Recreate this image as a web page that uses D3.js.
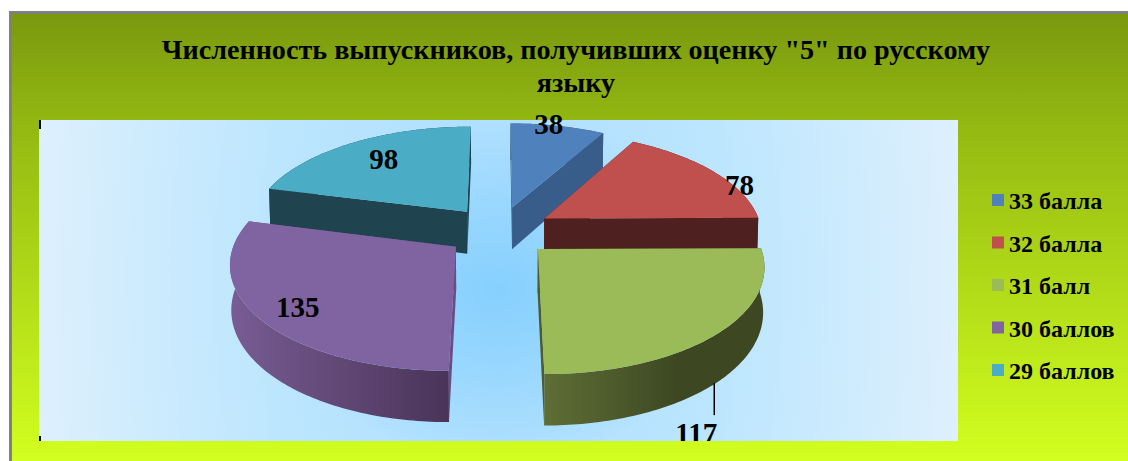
<!DOCTYPE html>
<html>
<head>
<meta charset="utf-8">
<script src="https://cdn.jsdelivr.net/npm/d3@7"></script>
<style>
  html, body { margin: 0; padding: 0; background: #fff; }
  text { font-family: "Liberation Serif", serif; font-weight: bold; fill: #000; }
</style>
</head>
<body>
<div id="chart"></div>
<script>
var categories = ["33 балла", "32 балла", "31 балл", "30 баллов", "29 баллов"];
var values = [38, 78, 117, 135, 98];
var titleLines = ["Численность выпускников, получивших оценку \"5\" по русскому", "языку"];

// styles, one per slice
var topColors = ["#4f81bd", "#c0504d", "#9bbb59", "#8064a2", "#4bacc6"];
var wallColors = ["#385d8a", "#4f2020", "#4e5b2c", "#6b4d85", "#1f4450"];
var rimLeft = ["#385d8a", "#4f2020", "#5f6e36", "#785c94", "#1f4450"];
var rimRight = ["#385d8a", "#4f2020", "#3d4822", "#4a3458", "#1f4450"];

// where each data label sits inside its slice: share of the sweep, share of radius
var labelSweep = [0.40, 0.67, null, 0.486, 0.516];
var labelRadius = [1.01, 1.03, null, 0.83, 0.73];

var w = 1128;
var h = 461;
var plot = {x: 39, y: 120, w: 919, h: 321};

// flat pie seen from above: projection constants
var cx = 499, cy = 231;
var rx = 218, ry = 102;
var persp = 0.14;
var explode = 0.245;
var thick = 43;
var shrink = 0.995;

var svg = d3.select("#chart")
  .append("svg")
  .attr("width", w)
  .attr("height", h)
  .style("display", "block");

var defs = svg.append("defs");

var bg = defs.append("linearGradient").attr("id", "bg")
  .attr("x1", 0).attr("y1", 0).attr("x2", 0).attr("y2", 1);
bg.append("stop").attr("offset", "0%").attr("stop-color", "#7a980e");
bg.append("stop").attr("offset", "25%").attr("stop-color", "#93b912");
bg.append("stop").attr("offset", "100%").attr("stop-color", "#d2ff1f");

// plot fill: nearly horizontal fade, plus a deeper blue spot in the middle
var pg = defs.append("radialGradient").attr("id", "plotbg")
  .attr("gradientUnits", "userSpaceOnUse")
  .attr("cx", 0).attr("cy", 0).attr("r", 1)
  .attr("gradientTransform", "translate(498,280) scale(470,900)");
pg.append("stop").attr("offset", "0%").attr("stop-color", "#aaddfe");
pg.append("stop").attr("offset", "50%").attr("stop-color", "#bde6fe");
pg.append("stop").attr("offset", "80%").attr("stop-color", "#d0ecfd");
pg.append("stop").attr("offset", "100%").attr("stop-color", "#dff0fd");

var spot = defs.append("radialGradient").attr("id", "plotspot")
  .attr("gradientUnits", "userSpaceOnUse")
  .attr("cx", 0).attr("cy", 0).attr("r", 1)
  .attr("gradientTransform", "translate(498,290) scale(230,170)");
spot.append("stop").attr("offset", "0%").attr("stop-color", "#86d0fe");
spot.append("stop").attr("offset", "100%").attr("stop-color", "#86d0fe").attr("stop-opacity", 0);

// only the bottom of the plot cuts labels off
defs.append("clipPath").attr("id", "plotclip")
  .append("rect")
  .attr("x", 0).attr("y", 0)
  .attr("width", w).attr("height", plot.y + plot.h);

// chart area
svg.append("rect")
  .attr("x", 9).attr("y", 11)
  .attr("width", w - 9).attr("height", h - 11)
  .attr("fill", "#808080");
svg.append("rect")
  .attr("x", 12).attr("y", 14)
  .attr("width", w - 12).attr("height", h - 14)
  .attr("fill", "url(#bg)");
svg.selectAll("rect.plotfill")
  .data(["url(#plotbg)", "url(#plotspot)"])
  .enter()
  .append("rect")
  .attr("class", "plotfill")
  .attr("x", plot.x).attr("y", plot.y)
  .attr("width", plot.w).attr("height", plot.h)
  .attr("fill", function(d) { return d; });

// little black stubs on the left of the plot
svg.append("rect").attr("x", plot.x).attr("y", plot.y).attr("width", 2).attr("height", 9).attr("fill", "#000");
svg.append("rect").attr("x", plot.x).attr("y", plot.y + plot.h - 5).attr("width", 2).attr("height", 5).attr("fill", "#000");

// title
svg.selectAll("text.title")
  .data(titleLines)
  .enter()
  .append("text")
  .attr("class", "title")
  .attr("x", 576)
  .attr("y", function(d, i) { return 59 + i * 33; })
  .attr("text-anchor", "middle")
  .attr("font-size", "28.15px")
  .text(function(d) { return d; });

function ground(d, angle, r) {
  var mid = (d.startAngle + d.endAngle) / 2;
  return {
    u: explode * Math.sin(mid) + r * Math.sin(angle),
    v: -explode * Math.cos(mid) - r * Math.cos(angle)
  };
}

// top face point
function project(p) {
  var z = 1 - persp * p.v;
  return [cx + rx * p.u / z, cy + ry * p.v / z];
}

// same ground point on the underside of the slice
function projectLow(p) {
  var z = 1 - persp * p.v;
  var t = project(p);
  return [cx + (t[0] - cx) * shrink, t[1] + thick / z];
}

var line = d3.line();

var pie = d3.pie().sort(null).value(function(d) { return d; });
var arcs = pie(values);

// back slices first, the front ones cover them
var drawOrder = [0, 1, 4, 3, 2];

var slices = svg.append("g").selectAll("g.slice")
  .data(drawOrder.map(function(i) { return arcs[i]; }))
  .enter()
  .append("g")
  .attr("class", "slice");

slices.each(function(d) {
  var g = d3.select(this);
  var step = Math.PI / 180;
  var rim = d3.range(d.startAngle, d.endAngle, step).concat([d.endAngle]).map(function(a) {
    return ground(d, a, 1);
  });
  var apex = ground(d, 0, 0);
  var start = rim[0];
  var end = rim[rim.length - 1];

  var gradId = "rim" + d.index;
  var xs = rim.map(function(p) { return project(p)[0]; });
  var grad = defs.append("linearGradient").attr("id", gradId)
    .attr("gradientUnits", "userSpaceOnUse")
    .attr("x1", d3.min(xs)).attr("y1", 0)
    .attr("x2", d3.max(xs)).attr("y2", 0);
  grad.append("stop").attr("offset", "0%").attr("stop-color", rimLeft[d.index]);
  grad.append("stop").attr("offset", d.index == 2 ? "60%" : "100%").attr("stop-color", rimRight[d.index]);

  [start, end].forEach(function(edge) {
    g.append("path")
      .attr("d", line([project(apex), project(edge), projectLow(edge), projectLow(apex)]) + "Z")
      .attr("fill", wallColors[d.index]);
  });

  g.append("path")
    .attr("d", line(rim.map(project).concat(rim.slice().reverse().map(projectLow))) + "Z")
    .attr("fill", "url(#" + gradId + ")");

  g.append("path")
    .attr("d", line([project(apex)].concat(rim.map(project))) + "Z")
    .attr("fill", topColors[d.index]);
});

// data labels, clipped by the plot like in the picture
var labels = svg.append("g").attr("clip-path", "url(#plotclip)");

arcs.forEach(function(d, i) {
  if (labelSweep[i] === null) return;
  var a = d.startAngle + (d.endAngle - d.startAngle) * labelSweep[i];
  var pos = project(ground(d, a, labelRadius[i]));
  labels.append("text")
    .attr("x", pos[0])
    .attr("y", pos[1] + 10)
    .attr("text-anchor", "middle")
    .attr("font-size", "29px")
    .text(values[i]);
});

// the one label pulled out of its slice with a leader line
var leaderFrom = projectLow(ground(arcs[2], 136 * Math.PI / 180, 1));
svg.append("line")
  .attr("x1", leaderFrom[0]).attr("y1", leaderFrom[1] - 1)
  .attr("x2", leaderFrom[0]).attr("y2", leaderFrom[1] + 31)
  .attr("stroke", "#000")
  .attr("stroke-width", 1.5);
labels.append("text")
  .attr("x", leaderFrom[0] - 18)
  .attr("y", leaderFrom[1] + 59)
  .attr("text-anchor", "middle")
  .attr("font-size", "29px")
  .text(values[2]);

// legend
var legendY = d3.scalePoint().domain(categories).range([200, 370]);

var legend = svg.append("g").selectAll("g.item")
  .data(categories)
  .enter()
  .append("g")
  .attr("class", "item")
  .attr("transform", function(d) { return "translate(992," + legendY(d) + ")"; });

legend.append("rect")
  .attr("x", 0).attr("y", -6)
  .attr("width", 12).attr("height", 12)
  .attr("fill", function(d, i) { return topColors[i]; });

legend.append("text")
  .attr("x", 17)
  .attr("y", 9)
  .attr("font-size", "24px")
  .text(function(d) { return d; });
</script>
</body>
</html>
